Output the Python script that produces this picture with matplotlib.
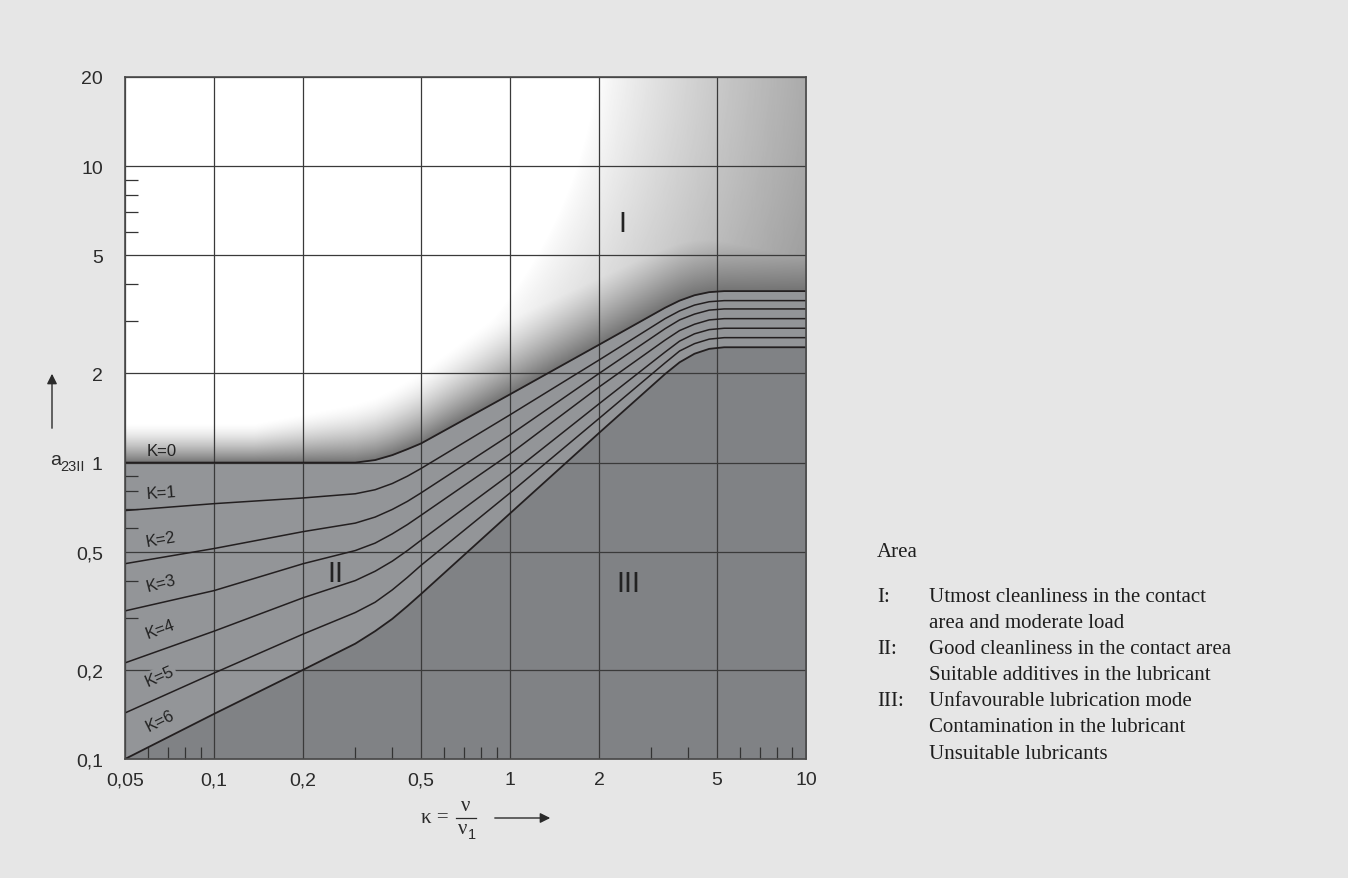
import numpy as np
import matplotlib
matplotlib.use("Agg")
import matplotlib.pyplot as plt
from matplotlib.ticker import FixedLocator, NullFormatter
from matplotlib.lines import Line2D

# ---------------- data ----------------
kappa = [0.05, 0.1, 0.2, 0.3, 0.35, 0.4, 0.45, 0.5, 1, 2, 3.34, 3.74, 4.2, 4.71, 5.29, 10]
K0 = [1.0, 1.0, 1.0, 1.0, 1.02, 1.06, 1.11, 1.16, 1.70, 2.50, 3.33, 3.52, 3.67, 3.76, 3.79, 3.79]
K1 = [0.689, 0.727, 0.76, 0.785, 0.81, 0.85, 0.90, 0.955, 1.45, 2.22, 3.06, 3.25, 3.40, 3.49, 3.52, 3.52]
K2 = [0.456, 0.513, 0.585, 0.625, 0.655, 0.695, 0.74, 0.79, 1.24, 2.00, 2.83, 3.03, 3.17, 3.27, 3.30, 3.30]
K3 = [0.316, 0.37, 0.456, 0.505, 0.535, 0.575, 0.618, 0.664, 1.07, 1.80, 2.59, 2.79, 2.93, 3.03, 3.06, 3.06]
K4 = [0.211, 0.27, 0.35, 0.40, 0.43, 0.465, 0.505, 0.547, 0.913, 1.58, 2.36, 2.57, 2.72, 2.81, 2.84, 2.84]
K5 = [0.143, 0.195, 0.264, 0.312, 0.338, 0.372, 0.41, 0.45, 0.79, 1.41, 2.17, 2.38, 2.52, 2.61, 2.64, 2.64]
K6 = [0.10, 0.142, 0.20, 0.245, 0.27, 0.297, 0.328, 0.36, 0.674, 1.26, 1.99, 2.18, 2.33, 2.42, 2.45, 2.45]
curves = [K0, K1, K2, K3, K4, K5, K6]
k_names = ["K=0", "K=1", "K=2", "K=3", "K=4", "K=5", "K=6"]
k_label_y = [1.10, 0.785, 0.541, 0.381, 0.264, 0.182, 0.128]
k_label_rot = [0, 4, 10, 14.6, 20, 23.7, 26.6]

x_ticks = [0.05, 0.1, 0.2, 0.5, 1, 2, 5, 10]
x_ticklabels = ["0,05", "0,1", "0,2", "0,5", "1", "2", "5", "10"]
y_ticks = [0.1, 0.2, 0.5, 1, 2, 5, 10, 20]
y_ticklabels = ["0,1", "0,2", "0,5", "1", "2", "5", "10", "20"]
x_minor = [0.06, 0.07, 0.08, 0.09, 0.3, 0.4, 0.6, 0.7, 0.8, 0.9, 3, 4, 6, 7, 8, 9]
y_minor = [0.3, 0.4, 0.6, 0.7, 0.8, 0.9, 3, 4, 6, 7, 8, 9]

legend_keys = ["I:", "", "II:", "", "III:", "", ""]
legend_texts = ["Utmost cleanliness in the contact", "area and moderate load",
                "Good cleanliness in the contact area", "Suitable additives in the lubricant",
                "Unfavourable lubrication mode", "Contamination in the lubricant",
                "Unsuitable lubricants"]

# ---------------- figure ----------------
W_PX, H_PX = 1348, 879
BG = "#e6e6e6"
COL_II = "#939598"
COL_III = "#808285"
LINE = "#231f20"
TXT = "#2b2b2b"
SANS = ["Liberation Sans", "DejaVu Sans"]
SERIF = ["Liberation Serif", "DejaVu Serif"]


def fx(px):
    return px / W_PX


def fy(py):
    return 1 - py / H_PX


fig = plt.figure(figsize=(W_PX / 100, H_PX / 100), dpi=100, facecolor=BG)
L, R, T, B = 125, 806, 78, 760
ax = fig.add_axes([fx(L), fy(B), (R - L) / W_PX, (B - T) / H_PX])
ax.set_xscale("log")
ax.set_yscale("log")
ax.set_xlim(0.05, 10)
ax.set_ylim(0.1, 20)
ax.set_autoscale_on(False)

# shading above K=0 (region I)
aw, ah = R - L, B - T
u = (np.arange(aw) + 0.5) / aw
v = (np.arange(ah) + 0.5) / ah
U, V = np.meshgrid(u, v)
Xp, Yp = U * aw, V * ah
lx0, lx1 = np.log10(0.05), np.log10(10)
ly0, ly1 = np.log10(0.1), np.log10(20)
uk = (np.log10(kappa) - lx0) / (lx1 - lx0)
vk = (np.log10(K0) - ly0) / (ly1 - ly0)
v0 = np.interp(u, uk, vk)
h = (V - v0[None, :]) * ah
cx, cy = 130 - L, B - 20
r = np.hypot(Xp - cx, Yp - cy)
rad = 0.32 * np.clip((r - 470) / 200, 0, None) ** 0.8
Wb = 40 + np.clip(Xp - 130, 0, None) * 0.2
sh = 0.55 * np.clip(1 - h / Wb, 0, 1) ** 1.5
dark = np.clip(np.maximum(rad, sh), 0, 1)
ax.imshow(1 - dark, origin="lower", extent=(0, 1, 0, 1), transform=ax.transAxes,
          cmap="gray", vmin=0, vmax=1, aspect="auto", interpolation="bilinear", zorder=0)

# regions II and III
ax.fill_between(kappa, K6, K0, color=COL_II, lw=0, zorder=1)
ax.fill_between(kappa, [0.1] * len(kappa), K6, color=COL_III, lw=0, zorder=1)

# curves
for i, c in enumerate(curves):
    ax.plot(kappa, c, color=LINE, lw=1.3 if i in (0, 6) else 1.1, zorder=3,
            solid_capstyle="butt")

# grid / ticks
ax.xaxis.set_major_locator(FixedLocator(x_ticks))
ax.yaxis.set_major_locator(FixedLocator(y_ticks))
ax.set_xticklabels(x_ticklabels)
ax.set_yticklabels(y_ticklabels)
ax.xaxis.set_minor_locator(FixedLocator(x_minor))
ax.yaxis.set_minor_locator(FixedLocator(y_minor))
ax.xaxis.set_minor_formatter(NullFormatter())
ax.yaxis.set_minor_formatter(NullFormatter())
ax.grid(True, which="major", color="#3a3a3a", lw=0.9)
ax.tick_params(which="major", length=0, labelsize=14, labelcolor=TXT)
ax.tick_params(axis="x", which="major", pad=9)
ax.tick_params(axis="y", which="major", pad=16)
ax.tick_params(which="minor", direction="in", length=9, width=0.9, color="#333333")
for lab in ax.get_xticklabels() + ax.get_yticklabels():
    lab.set_family(SANS)
for s in ax.spines.values():
    s.set_color("#4a4a4a")
    s.set_linewidth(1.2)
    s.set_zorder(4)

# K labels
for i, (name, yy, rot) in enumerate(zip(k_names, k_label_y, k_label_rot)):
    kw = {}
    if i > 0:
        kw = dict(bbox=dict(boxstyle="square,pad=0.08", fc=COL_II, ec="none"))
    ax.text(0.059, yy, name, fontsize=12, color="#222222", rotation=rot,
            rotation_mode="anchor", ha="left", va="center", zorder=3.5,
            family=SANS, **kw)

# region labels
for txt, xx, yy in [("I", 622, 224), ("II", 335, 574), ("III", 628, 584)]:
    fig.text(fx(xx), fy(yy), txt, fontsize=21, color="#222222",
             ha="center", va="center", family=SANS)

# y axis label with arrow
fig.text(fx(50), fy(461), "a", fontsize=14, color=TXT, ha="left", va="center", family=SANS)
fig.text(fx(60), fy(467), "23II", fontsize=10.5, color=TXT, ha="left", va="center", family=SANS)
fig.add_artist(matplotlib.patches.FancyArrowPatch(
    (fx(52), fy(432)), (fx(52), fy(372)), transform=fig.transFigure,
    arrowstyle="-|>,head_length=6,head_width=3", color=TXT, lw=1.0))

# x axis label: kappa = nu / nu_1 with arrow
fig.text(fx(435), fy(819), "κ =", fontsize=15, color=TXT, ha="center", va="center", family=SERIF)
fig.text(fx(466), fy(807), "ν", fontsize=15, color=TXT, ha="center", va="center", family=SERIF)
fig.add_artist(Line2D([fx(456), fx(476)], [fy(819), fy(819)], transform=fig.transFigure,
                      color=TXT, lw=0.9))
fig.text(fx(463), fy(830), "ν", fontsize=15, color=TXT, ha="center", va="center", family=SERIF)
fig.text(fx(472), fy(835), "1", fontsize=10.5, color=TXT, ha="center", va="center", family=SANS)
fig.add_artist(matplotlib.patches.FancyArrowPatch(
    (fx(492), fy(819)), (fx(553), fy(819)), transform=fig.transFigure,
    arrowstyle="-|>,head_length=6,head_width=3", color=TXT, lw=1.0))

# legend text
fig.text(fx(877), fy(553), "Area", fontsize=15, color="#1e1e1e",
         ha="left", va="center", family=SERIF)
y0 = 597
for i, (k, t) in enumerate(zip(legend_keys, legend_texts)):
    yy = y0 + i * 26.2
    if k:
        fig.text(fx(877), fy(yy), k, fontsize=15, color="#1e1e1e",
                 ha="left", va="center", family=SERIF)
    fig.text(fx(929), fy(yy), t, fontsize=15, color="#1e1e1e",
             ha="left", va="center", family=SERIF)

fig.savefig("out.png", dpi=100, facecolor=BG)
